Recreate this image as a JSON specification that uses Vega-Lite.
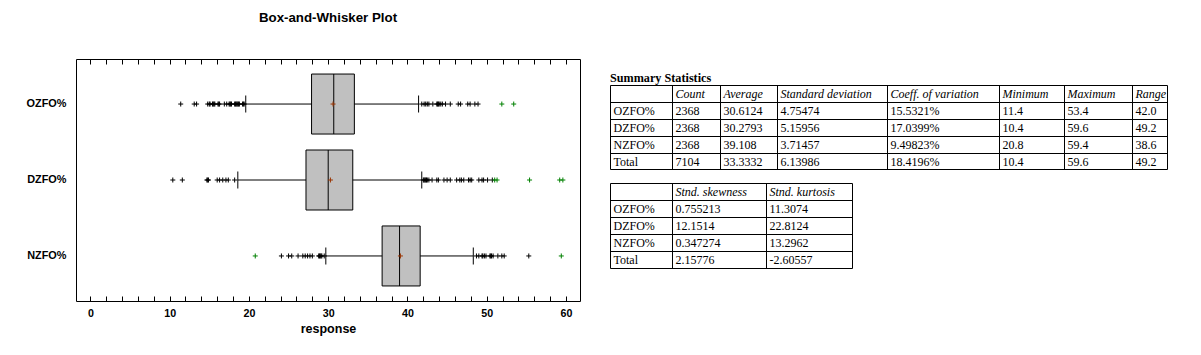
{
  "$schema": "https://vega.github.io/schema/vega-lite/v6.json",
  "width": 504,
  "height": 242,
  "autosize": {"type": "none"},
  "padding": {"left": 76, "top": 59, "right": 621, "bottom": 54},
  "background": "white",
  "config": {
    "view": {"stroke": "black", "strokeWidth": 1},
    "font": "Liberation Sans"
  },
  "title": {
    "text": "Box-and-Whisker Plot",
    "anchor": "middle",
    "font": "Liberation Sans",
    "fontSize": 13.3,
    "fontWeight": "bold",
    "color": "black",
    "baseline": "alphabetic",
    "offset": 23
  },
  "datasets": {
    "stats": [
      {"var": "OZFO%", "lo": 19.6, "q1": 27.9, "median": 30.7, "q3": 33.3, "hi": 41.4, "mean": 30.6124},
      {"var": "DZFO%", "lo": 18.6, "q1": 27.2, "median": 30.0, "q3": 33.1, "hi": 41.8, "mean": 30.2793},
      {"var": "NZFO%", "lo": 29.7, "q1": 36.8, "median": 39.0, "q3": 41.6, "hi": 48.3, "mean": 39.108}
    ],
    "outliers": [
      {"var": "OZFO%", "value": 11.4, "kind": "outside"},
      {"var": "OZFO%", "value": 13.1, "kind": "outside"},
      {"var": "OZFO%", "value": 13.4, "kind": "outside"},
      {"var": "OZFO%", "value": 14.8, "kind": "outside"},
      {"var": "OZFO%", "value": 15.0, "kind": "outside"},
      {"var": "OZFO%", "value": 15.1, "kind": "outside"},
      {"var": "OZFO%", "value": 15.4, "kind": "outside"},
      {"var": "OZFO%", "value": 15.5, "kind": "outside"},
      {"var": "OZFO%", "value": 15.6, "kind": "outside"},
      {"var": "OZFO%", "value": 15.7, "kind": "outside"},
      {"var": "OZFO%", "value": 16.1, "kind": "outside"},
      {"var": "OZFO%", "value": 16.2, "kind": "outside"},
      {"var": "OZFO%", "value": 16.3, "kind": "outside"},
      {"var": "OZFO%", "value": 16.9, "kind": "outside"},
      {"var": "OZFO%", "value": 17.2, "kind": "outside"},
      {"var": "OZFO%", "value": 17.5, "kind": "outside"},
      {"var": "OZFO%", "value": 17.6, "kind": "outside"},
      {"var": "OZFO%", "value": 17.7, "kind": "outside"},
      {"var": "OZFO%", "value": 17.8, "kind": "outside"},
      {"var": "OZFO%", "value": 18.2, "kind": "outside"},
      {"var": "OZFO%", "value": 18.3, "kind": "outside"},
      {"var": "OZFO%", "value": 18.4, "kind": "outside"},
      {"var": "OZFO%", "value": 18.5, "kind": "outside"},
      {"var": "OZFO%", "value": 18.6, "kind": "outside"},
      {"var": "OZFO%", "value": 18.7, "kind": "outside"},
      {"var": "OZFO%", "value": 18.8, "kind": "outside"},
      {"var": "OZFO%", "value": 19.2, "kind": "outside"},
      {"var": "OZFO%", "value": 19.3, "kind": "outside"},
      {"var": "OZFO%", "value": 19.4, "kind": "outside"},
      {"var": "OZFO%", "value": 41.8, "kind": "outside"},
      {"var": "OZFO%", "value": 42.1, "kind": "outside"},
      {"var": "OZFO%", "value": 42.3, "kind": "outside"},
      {"var": "OZFO%", "value": 42.5, "kind": "outside"},
      {"var": "OZFO%", "value": 42.7, "kind": "outside"},
      {"var": "OZFO%", "value": 43.2, "kind": "outside"},
      {"var": "OZFO%", "value": 43.7, "kind": "outside"},
      {"var": "OZFO%", "value": 43.8, "kind": "outside"},
      {"var": "OZFO%", "value": 43.9, "kind": "outside"},
      {"var": "OZFO%", "value": 44.0, "kind": "outside"},
      {"var": "OZFO%", "value": 44.2, "kind": "outside"},
      {"var": "OZFO%", "value": 44.4, "kind": "outside"},
      {"var": "OZFO%", "value": 44.8, "kind": "outside"},
      {"var": "OZFO%", "value": 45.4, "kind": "outside"},
      {"var": "OZFO%", "value": 46.4, "kind": "outside"},
      {"var": "OZFO%", "value": 46.7, "kind": "outside"},
      {"var": "OZFO%", "value": 47.6, "kind": "outside"},
      {"var": "OZFO%", "value": 47.9, "kind": "outside"},
      {"var": "OZFO%", "value": 48.5, "kind": "outside"},
      {"var": "OZFO%", "value": 48.9, "kind": "outside"},
      {"var": "OZFO%", "value": 51.9, "kind": "far outside"},
      {"var": "OZFO%", "value": 53.4, "kind": "far outside"},
      {"var": "DZFO%", "value": 10.4, "kind": "outside"},
      {"var": "DZFO%", "value": 11.6, "kind": "outside"},
      {"var": "DZFO%", "value": 14.7, "kind": "outside"},
      {"var": "DZFO%", "value": 14.8, "kind": "outside"},
      {"var": "DZFO%", "value": 14.9, "kind": "outside"},
      {"var": "DZFO%", "value": 16.0, "kind": "outside"},
      {"var": "DZFO%", "value": 16.3, "kind": "outside"},
      {"var": "DZFO%", "value": 16.7, "kind": "outside"},
      {"var": "DZFO%", "value": 17.1, "kind": "outside"},
      {"var": "DZFO%", "value": 17.4, "kind": "outside"},
      {"var": "DZFO%", "value": 18.2, "kind": "outside"},
      {"var": "DZFO%", "value": 42.0, "kind": "outside"},
      {"var": "DZFO%", "value": 42.1, "kind": "outside"},
      {"var": "DZFO%", "value": 42.2, "kind": "outside"},
      {"var": "DZFO%", "value": 42.3, "kind": "outside"},
      {"var": "DZFO%", "value": 42.4, "kind": "outside"},
      {"var": "DZFO%", "value": 42.5, "kind": "outside"},
      {"var": "DZFO%", "value": 42.7, "kind": "outside"},
      {"var": "DZFO%", "value": 43.1, "kind": "outside"},
      {"var": "DZFO%", "value": 43.7, "kind": "outside"},
      {"var": "DZFO%", "value": 43.9, "kind": "outside"},
      {"var": "DZFO%", "value": 44.6, "kind": "outside"},
      {"var": "DZFO%", "value": 45.0, "kind": "outside"},
      {"var": "DZFO%", "value": 45.4, "kind": "outside"},
      {"var": "DZFO%", "value": 46.2, "kind": "outside"},
      {"var": "DZFO%", "value": 46.6, "kind": "outside"},
      {"var": "DZFO%", "value": 46.8, "kind": "outside"},
      {"var": "DZFO%", "value": 47.1, "kind": "outside"},
      {"var": "DZFO%", "value": 47.7, "kind": "outside"},
      {"var": "DZFO%", "value": 47.9, "kind": "outside"},
      {"var": "DZFO%", "value": 48.1, "kind": "outside"},
      {"var": "DZFO%", "value": 49.0, "kind": "outside"},
      {"var": "DZFO%", "value": 49.4, "kind": "outside"},
      {"var": "DZFO%", "value": 49.6, "kind": "outside"},
      {"var": "DZFO%", "value": 50.1, "kind": "outside"},
      {"var": "DZFO%", "value": 50.7, "kind": "outside"},
      {"var": "DZFO%", "value": 51.0, "kind": "far outside"},
      {"var": "DZFO%", "value": 51.3, "kind": "far outside"},
      {"var": "DZFO%", "value": 55.4, "kind": "far outside"},
      {"var": "DZFO%", "value": 59.2, "kind": "far outside"},
      {"var": "DZFO%", "value": 59.6, "kind": "far outside"},
      {"var": "NZFO%", "value": 20.8, "kind": "far outside"},
      {"var": "NZFO%", "value": 24.1, "kind": "outside"},
      {"var": "NZFO%", "value": 25.0, "kind": "outside"},
      {"var": "NZFO%", "value": 25.4, "kind": "outside"},
      {"var": "NZFO%", "value": 26.2, "kind": "outside"},
      {"var": "NZFO%", "value": 26.8, "kind": "outside"},
      {"var": "NZFO%", "value": 27.1, "kind": "outside"},
      {"var": "NZFO%", "value": 27.4, "kind": "outside"},
      {"var": "NZFO%", "value": 27.7, "kind": "outside"},
      {"var": "NZFO%", "value": 28.0, "kind": "outside"},
      {"var": "NZFO%", "value": 28.8, "kind": "outside"},
      {"var": "NZFO%", "value": 28.9, "kind": "outside"},
      {"var": "NZFO%", "value": 29.0, "kind": "outside"},
      {"var": "NZFO%", "value": 29.1, "kind": "outside"},
      {"var": "NZFO%", "value": 29.2, "kind": "outside"},
      {"var": "NZFO%", "value": 29.5, "kind": "outside"},
      {"var": "NZFO%", "value": 48.7, "kind": "outside"},
      {"var": "NZFO%", "value": 49.0, "kind": "outside"},
      {"var": "NZFO%", "value": 49.4, "kind": "outside"},
      {"var": "NZFO%", "value": 49.5, "kind": "outside"},
      {"var": "NZFO%", "value": 49.7, "kind": "outside"},
      {"var": "NZFO%", "value": 49.9, "kind": "outside"},
      {"var": "NZFO%", "value": 50.4, "kind": "outside"},
      {"var": "NZFO%", "value": 50.5, "kind": "outside"},
      {"var": "NZFO%", "value": 50.6, "kind": "outside"},
      {"var": "NZFO%", "value": 50.8, "kind": "outside"},
      {"var": "NZFO%", "value": 51.4, "kind": "outside"},
      {"var": "NZFO%", "value": 51.9, "kind": "outside"},
      {"var": "NZFO%", "value": 52.2, "kind": "outside"},
      {"var": "NZFO%", "value": 55.3, "kind": "outside"},
      {"var": "NZFO%", "value": 59.4, "kind": "far outside"}
    ],
    "table1": [
      {"r": 0, "c": 1, "text": "Count"},
      {"r": 0, "c": 2, "text": "Average"},
      {"r": 0, "c": 3, "text": "Standard deviation"},
      {"r": 0, "c": 4, "text": "Coeff. of variation"},
      {"r": 0, "c": 5, "text": "Minimum"},
      {"r": 0, "c": 6, "text": "Maximum"},
      {"r": 0, "c": 7, "text": "Range"},
      {"r": 1, "c": 0, "text": "OZFO%"},
      {"r": 1, "c": 1, "text": "2368"},
      {"r": 1, "c": 2, "text": "30.6124"},
      {"r": 1, "c": 3, "text": "4.75474"},
      {"r": 1, "c": 4, "text": "15.5321%"},
      {"r": 1, "c": 5, "text": "11.4"},
      {"r": 1, "c": 6, "text": "53.4"},
      {"r": 1, "c": 7, "text": "42.0"},
      {"r": 2, "c": 0, "text": "DZFO%"},
      {"r": 2, "c": 1, "text": "2368"},
      {"r": 2, "c": 2, "text": "30.2793"},
      {"r": 2, "c": 3, "text": "5.15956"},
      {"r": 2, "c": 4, "text": "17.0399%"},
      {"r": 2, "c": 5, "text": "10.4"},
      {"r": 2, "c": 6, "text": "59.6"},
      {"r": 2, "c": 7, "text": "49.2"},
      {"r": 3, "c": 0, "text": "NZFO%"},
      {"r": 3, "c": 1, "text": "2368"},
      {"r": 3, "c": 2, "text": "39.108"},
      {"r": 3, "c": 3, "text": "3.71457"},
      {"r": 3, "c": 4, "text": "9.49823%"},
      {"r": 3, "c": 5, "text": "20.8"},
      {"r": 3, "c": 6, "text": "59.4"},
      {"r": 3, "c": 7, "text": "38.6"},
      {"r": 4, "c": 0, "text": "Total"},
      {"r": 4, "c": 1, "text": "7104"},
      {"r": 4, "c": 2, "text": "33.3332"},
      {"r": 4, "c": 3, "text": "6.13986"},
      {"r": 4, "c": 4, "text": "18.4196%"},
      {"r": 4, "c": 5, "text": "10.4"},
      {"r": 4, "c": 6, "text": "59.6"},
      {"r": 4, "c": 7, "text": "49.2"}
    ],
    "table2": [
      {"r": 0, "c": 1, "text": "Stnd. skewness"},
      {"r": 0, "c": 2, "text": "Stnd. kurtosis"},
      {"r": 1, "c": 0, "text": "OZFO%"},
      {"r": 1, "c": 1, "text": "0.755213"},
      {"r": 1, "c": 2, "text": "11.3074"},
      {"r": 2, "c": 0, "text": "DZFO%"},
      {"r": 2, "c": 1, "text": "12.1514"},
      {"r": 2, "c": 2, "text": "22.8124"},
      {"r": 3, "c": 0, "text": "NZFO%"},
      {"r": 3, "c": 1, "text": "0.347274"},
      {"r": 3, "c": 2, "text": "13.2962"},
      {"r": 4, "c": 0, "text": "Total"},
      {"r": 4, "c": 1, "text": "2.15776"},
      {"r": 4, "c": 2, "text": "-2.60557"}
    ],
    "cols1": [{"c": 0}, {"c": 1}, {"c": 2}, {"c": 3}, {"c": 4}, {"c": 5}, {"c": 6}, {"c": 7}, {"c": 8}],
    "cols2": [{"c": 0}, {"c": 1}, {"c": 2}, {"c": 3}],
    "rows": [{"r": 0}, {"r": 1}, {"r": 2}, {"r": 3}, {"r": 4}, {"r": 5}],
    "caption": [{"text": "Summary Statistics"}]
  },
  "layer": [
    {
      "data": {"name": "stats"},
      "resolve": {"axis": {"x": "independent"}},
      "layer": [
        {
          "mark": {"type": "rule", "color": "black", "strokeWidth": 1},
          "encoding": {
            "x": {
              "field": "lo", "type": "quantitative",
              "scale": {"domain": [-1.81, 61.76], "nice": false, "zero": false},
              "axis": {
                "orient": "bottom", "values": [0,2,4,6,8,10,12,14,16,18,20,22,24,26,28,30,32,34,36,38,40,42,44,46,48,50,52,54,56,58,60],
                "labelExpr": "datum.value % 10 === 0 ? datum.label : ''",
                "tickSize": -5, "tickColor": "black", "tickWidth": 1,
                "domain": false, "grid": false,
                "labelOverlap": false, "labelFlush": false,
                "labelFont": "Liberation Sans", "labelFontSize": 10.7, "labelFontWeight": "bold", "labelColor": "black",
                "labelPadding": 12,
                "title": "response", "titleFont": "Liberation Sans", "titleFontSize": 12.5, "titleFontWeight": "bold", "titleColor": "black",
                "titlePadding": 5
              }
            },
            "x2": {"field": "hi"},
            "y": {
              "field": "var", "type": "nominal",
              "scale": {"domain": ["OZFO%", "DZFO%", "NZFO%"], "paddingInner": 0, "paddingOuter": 0.093},
              "axis": {
                "ticks": false, "tickSize": 0, "domain": false, "title": null,
                "labelFont": "Liberation Sans", "labelFontSize": 10.9, "labelFontWeight": "bold", "labelColor": "black",
                "labelPadding": 10
              }
            }
          }
        },
        {
          "mark": {"type": "bar", "size": 60, "fill": "#c0c0c0", "stroke": "black", "strokeWidth": 1},
          "encoding": {
            "x": {
              "field": "q1", "type": "quantitative",
              "axis": {
                "orient": "top", "values": [0,2,4,6,8,10,12,14,16,18,20,22,24,26,28,30,32,34,36,38,40,42,44,46,48,50,52,54,56,58,60],
                "labels": false, "tickSize": -5, "tickColor": "black", "tickWidth": 1,
                "domain": false, "grid": false, "title": null
              }
            },
            "x2": {"field": "q3"},
            "y": {"field": "var", "type": "nominal"}
          }
        },
        {
          "mark": {"type": "tick", "size": 60, "thickness": 1, "color": "black", "opacity": 1},
          "encoding": {
            "x": {"field": "median", "type": "quantitative", "axis": null},
            "y": {"field": "var", "type": "nominal"}
          }
        },
        {
          "mark": {"type": "tick", "size": 17, "thickness": 1, "color": "black", "opacity": 1},
          "encoding": {
            "x": {"field": "lo", "type": "quantitative", "axis": null},
            "y": {"field": "var", "type": "nominal"}
          }
        },
        {
          "mark": {"type": "tick", "size": 17, "thickness": 1, "color": "black", "opacity": 1},
          "encoding": {
            "x": {"field": "hi", "type": "quantitative", "axis": null},
            "y": {"field": "var", "type": "nominal"}
          }
        },
        {
          "data": {"name": "outliers"},
          "mark": {"type": "point", "shape": "M-1,0H1M0,-1V1", "size": 25, "filled": false, "strokeWidth": 1, "opacity": 1},
          "encoding": {
            "x": {"field": "value", "type": "quantitative", "axis": null},
            "y": {"field": "var", "type": "nominal"},
            "color": {
              "field": "kind", "type": "nominal",
              "scale": {"domain": ["outside", "far outside"], "range": ["black", "#008000"]},
              "legend": null
            }
          }
        },
        {
          "mark": {"type": "point", "shape": "M-1,0H1M0,-1V1", "size": 25, "filled": false, "strokeWidth": 1, "opacity": 1, "color": "#993300"},
          "encoding": {
            "x": {"field": "mean", "type": "quantitative", "axis": null},
            "y": {"field": "var", "type": "nominal"}
          }
        }
      ]
    },
    {
      "layer": [
        {
          "data": {"name": "cols1"},
          "mark": {"type": "rule", "color": "black", "strokeWidth": 1},
          "encoding": {
            "x": {"field": "c", "type": "quantitative", "axis": null,
                  "scale": {"domain": [0,1,2,3,4,5,6,7,8], "range": [534.5,596.5,644.5,701.5,811.5,923.5,988.5,1056.5,1091.5], "nice": false, "zero": false}},
            "y": {"datum": 0, "type": "quantitative", "axis": null,
                  "scale": {"domain": [0,1,2,3,4,5], "range": [26.5,43.5,60.5,77.5,94.5,110.5], "nice": false, "zero": false}},
            "y2": {"datum": 5}
          }
        },
        {
          "data": {"name": "rows"},
          "mark": {"type": "rule", "color": "black", "strokeWidth": 1},
          "encoding": {
            "y": {"field": "r", "type": "quantitative", "axis": null},
            "x": {"datum": 0, "type": "quantitative", "axis": null},
            "x2": {"datum": 8}
          }
        },
        {
          "data": {"name": "table1"},
          "transform": [{"filter": "datum.r > 0"}],
          "mark": {"type": "text", "align": "left", "baseline": "alphabetic", "dx": 3, "dy": 12.5, "font": "Liberation Serif", "fontSize": 12, "color": "black"},
          "encoding": {
            "x": {"field": "c", "type": "quantitative", "axis": null},
            "y": {"field": "r", "type": "quantitative", "axis": null},
            "text": {"field": "text"}
          }
        },
        {
          "data": {"name": "table1"},
          "transform": [{"filter": "datum.r === 0"}],
          "mark": {"type": "text", "align": "left", "baseline": "alphabetic", "dx": 3, "dy": 12.5, "font": "Liberation Serif", "fontSize": 12, "fontStyle": "italic", "color": "black"},
          "encoding": {
            "x": {"field": "c", "type": "quantitative", "axis": null},
            "y": {"field": "r", "type": "quantitative", "axis": null},
            "text": {"field": "text"}
          }
        },
        {
          "data": {"name": "caption"},
          "mark": {"type": "text", "align": "left", "baseline": "alphabetic", "dx": -0.5, "dy": -4, "font": "Liberation Serif", "fontSize": 12.2, "fontWeight": "bold", "color": "black"},
          "encoding": {
            "x": {"datum": 0, "type": "quantitative", "axis": null},
            "y": {"datum": 0, "type": "quantitative", "axis": null},
            "text": {"field": "text"}
          }
        }
      ]
    },
    {
      "layer": [
        {
          "data": {"name": "cols2"},
          "mark": {"type": "rule", "color": "black", "strokeWidth": 1},
          "encoding": {
            "x": {"field": "c", "type": "quantitative", "axis": null,
                  "scale": {"domain": [0,1,2,3], "range": [534.5,596.5,690.5,776.5], "nice": false, "zero": false}},
            "y": {"datum": 0, "type": "quantitative", "axis": null,
                  "scale": {"domain": [0,1,2,3,4,5], "range": [124.5,141.5,158.5,175.5,192.5,209.5], "nice": false, "zero": false}},
            "y2": {"datum": 5}
          }
        },
        {
          "data": {"name": "rows"},
          "mark": {"type": "rule", "color": "black", "strokeWidth": 1},
          "encoding": {
            "y": {"field": "r", "type": "quantitative", "axis": null},
            "x": {"datum": 0, "type": "quantitative", "axis": null},
            "x2": {"datum": 3}
          }
        },
        {
          "data": {"name": "table2"},
          "transform": [{"filter": "datum.r > 0"}],
          "mark": {"type": "text", "align": "left", "baseline": "alphabetic", "dx": 3, "dy": 12.5, "font": "Liberation Serif", "fontSize": 12, "color": "black"},
          "encoding": {
            "x": {"field": "c", "type": "quantitative", "axis": null},
            "y": {"field": "r", "type": "quantitative", "axis": null},
            "text": {"field": "text"}
          }
        },
        {
          "data": {"name": "table2"},
          "transform": [{"filter": "datum.r === 0"}],
          "mark": {"type": "text", "align": "left", "baseline": "alphabetic", "dx": 3, "dy": 12.5, "font": "Liberation Serif", "fontSize": 12, "fontStyle": "italic", "color": "black"},
          "encoding": {
            "x": {"field": "c", "type": "quantitative", "axis": null},
            "y": {"field": "r", "type": "quantitative", "axis": null},
            "text": {"field": "text"}
          }
        }
      ]
    }
  ],
  "resolve": {"scale": {"x": "independent", "y": "independent"}, "axis": {"x": "independent", "y": "independent"}}
}
